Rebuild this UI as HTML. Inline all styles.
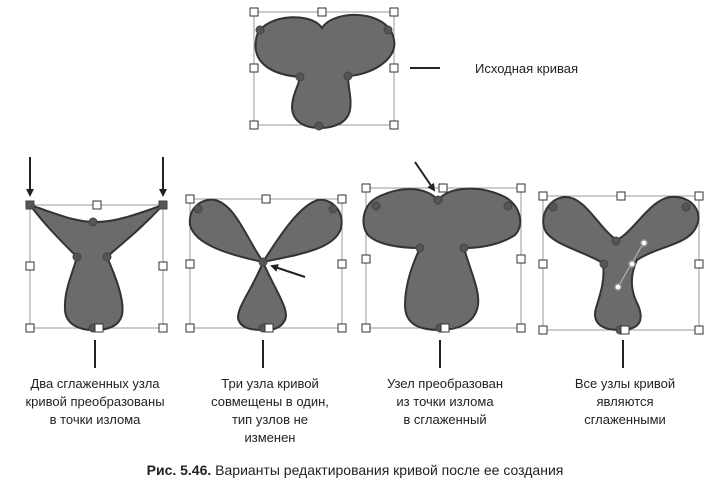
<!DOCTYPE html>
<html><head><meta charset="utf-8"><style>
html,body{margin:0;padding:0;background:#fff;width:710px;height:486px;overflow:hidden}
svg{display:block}
text{font-family:"Liberation Sans",sans-serif;fill:#222}
</style></head><body>
<svg width="710" height="486" viewBox="0 0 710 486">
<defs><marker id="ah" markerWidth="8" markerHeight="8" refX="6" refY="4" orient="auto" markerUnits="userSpaceOnUse"><path d="M0,0 L8,4 L0,8 Z" fill="#222"/></marker></defs>
<g fill="none" stroke="#999" stroke-width="1">
<rect x="254" y="12" width="140" height="113"/>
<rect x="30" y="205" width="133" height="123"/>
<rect x="190" y="199" width="152" height="129"/>
<rect x="366" y="188" width="155" height="140"/>
<rect x="543" y="196" width="156" height="134"/>
</g>
<g fill="#6b6b6b" stroke="#333" stroke-width="2">
<path d="M322,28 C335,8 390,10 394,40 C398,60 370,75 348,76 C348,88 352,98 350,110 C347,125 330,128 320,128 C305,128 293,122 292,108 C292,95 299,85 300,77 C275,75 252,65 256,40 C258,15 310,10 322,28 Z"/>
<path d="M30,205 C60,215 75,222 96,222 C115,222 135,215 163,205 C140,230 120,245 107,257 C115,275 125,300 122,315 C118,330 100,330 93,330 C80,330 66,325 65,310 C64,290 72,275 77,257 C60,240 45,225 30,205 Z"/>
<path d="M263,262 C230,255 195,245 190,225 C188,205 205,198 215,200 C235,205 245,235 263,262 C280,235 300,205 318,200 C330,198 345,210 341,228 C335,250 295,255 263,262 C275,290 290,310 285,320 C280,330 270,330 263,330 C250,330 240,328 238,318 C238,305 252,290 263,262 Z"/>
<path d="M438,200 C450,186 480,185 505,197 C520,205 525,225 515,235 C500,245 480,248 464,248 C470,270 480,290 478,305 C475,325 455,330 440,330 C420,330 405,325 405,305 C405,285 412,265 420,248 C400,248 378,245 368,235 C360,225 362,205 378,197 C400,186 425,186 438,200 Z"/>
<path d="M617,240 C635,230 650,200 670,197 C690,195 703,210 697,225 C690,245 660,245 637,260 C630,275 630,290 638,305 C645,322 638,330 620,330 C600,330 592,322 596,308 C601,292 605,280 603,263 C580,250 555,245 546,232 C538,218 548,198 565,197 C585,196 600,230 617,240 Z"/>
</g>
<g fill="#555" stroke="#444" stroke-width="1">
<circle cx="260" cy="30" r="4"/><circle cx="388" cy="30" r="4"/><circle cx="300" cy="77" r="4"/><circle cx="348" cy="76" r="4"/><circle cx="319" cy="126" r="4"/>
<rect x="26" y="201" width="8" height="8"/><rect x="159" y="201" width="8" height="8"/>
<circle cx="93" cy="222" r="4"/><circle cx="77" cy="257" r="4"/><circle cx="107" cy="257" r="4"/><circle cx="93" cy="328" r="4"/>
<circle cx="198" cy="209" r="4"/><circle cx="333" cy="209" r="4"/><circle cx="263" cy="262" r="4"/><circle cx="263" cy="328" r="4"/>
<circle cx="438" cy="200" r="4"/><circle cx="376" cy="206" r="4"/><circle cx="508" cy="206" r="4"/><circle cx="420" cy="248" r="4"/><circle cx="464" cy="248" r="4"/><circle cx="440" cy="328" r="4"/>
<circle cx="553" cy="207" r="4"/><circle cx="686" cy="207" r="4"/><circle cx="616" cy="241" r="4"/><circle cx="604" cy="264" r="4"/><circle cx="620" cy="330" r="4"/>
</g>
<line x1="618" y1="287" x2="644" y2="242" stroke="#bbb" stroke-width="1"/>
<g fill="#fff" stroke="#999" stroke-width="1.5"><circle cx="644" cy="243" r="3"/><circle cx="632" cy="264" r="3"/><circle cx="618" cy="287" r="3"/></g>
<g fill="#fff" stroke="#333" stroke-width="1">
<rect x="250" y="8" width="8" height="8"/><rect x="318" y="8" width="8" height="8"/><rect x="390" y="8" width="8" height="8"/><rect x="250" y="64" width="8" height="8"/><rect x="390" y="64" width="8" height="8"/><rect x="250" y="121" width="8" height="8"/><rect x="390" y="121" width="8" height="8"/>
<rect x="93" y="201" width="8" height="8"/><rect x="26" y="262" width="8" height="8"/><rect x="159" y="262" width="8" height="8"/><rect x="26" y="324" width="8" height="8"/><rect x="95" y="324" width="8" height="8"/><rect x="159" y="324" width="8" height="8"/>
<rect x="186" y="195" width="8" height="8"/><rect x="262" y="195" width="8" height="8"/><rect x="338" y="195" width="8" height="8"/><rect x="186" y="260" width="8" height="8"/><rect x="338" y="260" width="8" height="8"/><rect x="186" y="324" width="8" height="8"/><rect x="265" y="324" width="8" height="8"/><rect x="338" y="324" width="8" height="8"/>
<rect x="362" y="184" width="8" height="8"/><rect x="439" y="184" width="8" height="8"/><rect x="517" y="184" width="8" height="8"/><rect x="362" y="255" width="8" height="8"/><rect x="517" y="255" width="8" height="8"/><rect x="362" y="324" width="8" height="8"/><rect x="441" y="324" width="8" height="8"/><rect x="517" y="324" width="8" height="8"/>
<rect x="539" y="192" width="8" height="8"/><rect x="617" y="192" width="8" height="8"/><rect x="695" y="192" width="8" height="8"/><rect x="539" y="260" width="8" height="8"/><rect x="695" y="260" width="8" height="8"/><rect x="539" y="326" width="8" height="8"/><rect x="621" y="326" width="8" height="8"/><rect x="695" y="326" width="8" height="8"/>
</g>
<g stroke="#222" stroke-width="2" fill="none">
<line x1="30" y1="157" x2="30" y2="195" marker-end="url(#ah)"/>
<line x1="163" y1="157" x2="163" y2="195" marker-end="url(#ah)"/>
<line x1="305" y1="277" x2="272" y2="266" marker-end="url(#ah)"/>
<line x1="415" y1="162" x2="434" y2="190" marker-end="url(#ah)"/>
<line x1="410" y1="68" x2="440" y2="68"/>
<line x1="95" y1="340" x2="95" y2="368"/>
<line x1="263" y1="340" x2="263" y2="368"/>
<line x1="440" y1="340" x2="440" y2="368"/>
<line x1="623" y1="340" x2="623" y2="368"/>
</g>
<text x="475" y="73" font-size="13">Исходная кривая</text>
<g font-size="13" text-anchor="middle">
<text x="95" y="388">Два сглаженных узла</text><text x="95" y="406">кривой преобразованы</text><text x="95" y="424">в точки излома</text>
<text x="270" y="388">Три узла кривой</text><text x="270" y="406">совмещены в один,</text><text x="270" y="424">тип узлов не</text><text x="270" y="442">изменен</text>
<text x="445" y="388">Узел преобразован</text><text x="445" y="406">из точки излома</text><text x="445" y="424">в сглаженный</text>
<text x="625" y="388">Все узлы кривой</text><text x="625" y="406">являются</text><text x="625" y="424">сглаженными</text>
<text x="355" y="475" font-size="14"><tspan font-weight="bold">Рис. 5.46.</tspan> Варианты редактирования кривой после ее создания</text>
</g>
</svg>
</body></html>
